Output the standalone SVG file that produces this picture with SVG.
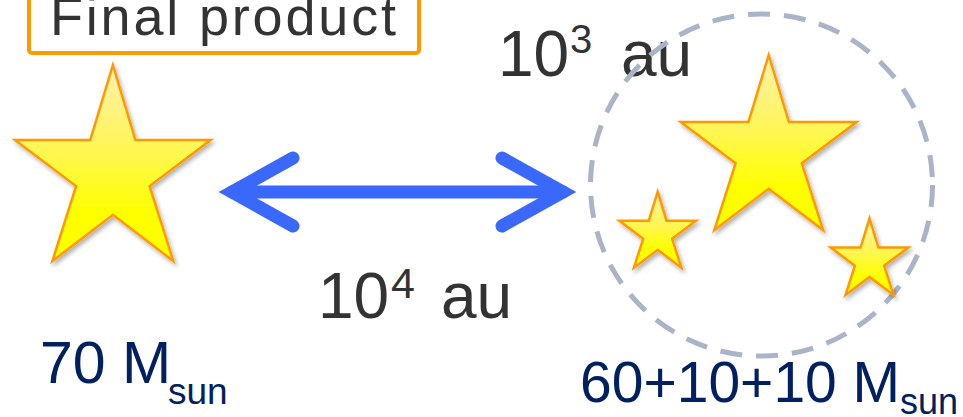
<svg xmlns="http://www.w3.org/2000/svg" width="963" height="417" viewBox="0 0 963 417">
  <defs>
    <linearGradient id="starFill" x1="0" y1="0" x2="0" y2="1">
      <stop offset="0" stop-color="#fff0b0"/>
      <stop offset="0.45" stop-color="#fff650"/>
      <stop offset="0.75" stop-color="#ffff00"/>
      <stop offset="1" stop-color="#ffff00"/>
    </linearGradient>
    <filter id="shadow" x="-20%" y="-20%" width="140%" height="140%">
      <feDropShadow dx="2" dy="3" stdDeviation="2" flood-color="#000" flood-opacity="0.3"/>
    </filter>
    <style>
      .star { fill: url(#starFill); stroke: #ff9900; stroke-width: 2.5; stroke-linejoin: miter; filter: url(#shadow); }
      .dark { font-family: "Liberation Sans", Arial, sans-serif; fill: #333333; }
      .mass { font-family: "Liberation Sans", Arial, sans-serif; fill: #002060; }
      .arrow { fill: none; stroke: #3a68fa; stroke-width: 13; stroke-linecap: round; stroke-linejoin: miter; }
    </style>
  </defs>

  <g id="final-product">
    <rect x="29" y="-20" width="390" height="73" rx="3" fill="#ffffff" stroke="#ff9900" stroke-width="4"/>
    <text class="dark" x="50" y="35" font-size="54" textLength="346" lengthAdjust="spacing">Final product</text>
  </g>

  <g id="distance-wide">
    <text class="dark" y="318"><tspan x="318" font-size="64">10</tspan><tspan x="391" y="298" font-size="43">4</tspan><tspan x="441" y="318" font-size="64">au</tspan></text>
  </g>

  <g id="distance-close">
    <text class="dark" y="76"><tspan x="498" font-size="64">10</tspan><tspan x="570" y="53" font-size="40">3</tspan><tspan x="621" y="76" font-size="64">au</tspan></text>
  </g>

  <g id="mass-left">
    <text class="mass" y="383"><tspan x="40" font-size="59">70 M</tspan><tspan x="168" y="404" font-size="37">sun</tspan></text>
  </g>

  <g id="mass-right">
    <text class="mass" y="402"><tspan x="580" font-size="57">60+10+10 M</tspan><tspan x="900" y="414" font-size="36">sun</tspan></text>
  </g>

  <g id="star-left">
    <path class="star" d="M112.9,65 L135.4,139.9 L210.7,139.9 L149.6,186.1 L173.3,261 L112.9,214.7 L52.4,261 L76.1,186.1 L15,139.9 L90.3,139.9 Z"/>
  </g>

  <g id="cluster">
    <circle cx="761.5" cy="185" r="171" fill="none" stroke="#aab4c8" stroke-width="5" stroke-dasharray="22 14"/>
    <path class="star" d="M768.7,55 L788.9,121.9 L856.7,121.9 L801.8,163.2 L823.1,230 L768.7,188.7 L714.3,230 L735.6,163.2 L680.7,121.9 L748.5,121.9 Z"/>
    <path class="star" d="M657.7,191.7 L666.5,220.7 L696,220.7 L672.1,238.7 L681.3,267.7 L657.7,249.8 L633.9,267.7 L643.2,238.7 L619.3,220.7 L648.8,220.7 Z"/>
    <path class="star" d="M869.5,218.3 L878.4,247.6 L908.3,247.6 L884.1,265.7 L893.5,295 L869.5,276.9 L845.5,295 L854.9,265.7 L830.7,247.6 L860.6,247.6 Z"/>
  </g>

  <g id="connectors">
    <path class="arrow" d="M232,192 L563,192"/>
    <path class="arrow" d="M293,158 L232,192 L293,226"/>
    <path class="arrow" d="M502,158 L563,192 L502,226"/>
  </g>
</svg>
